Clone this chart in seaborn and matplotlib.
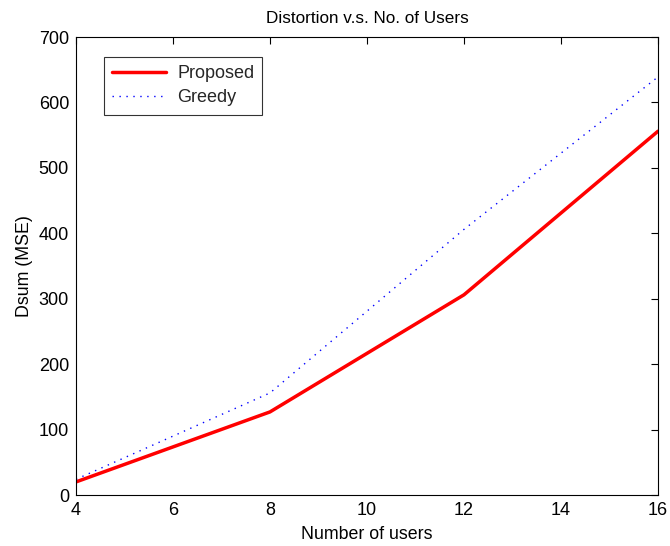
import matplotlib
matplotlib.use("Agg")
import matplotlib.pyplot as plt
import seaborn as sns
import pandas as pd

users = [4, 8, 12, 16]
proposed = [20, 127, 306, 556]
greedy = [24, 156, 406, 639]
series_names = ["Proposed", "Greedy"]

sns.set_theme(style="white")
plt.rcParams['font.family'] = ['Liberation Sans', 'DejaVu Sans']
plt.rcParams['xtick.direction'] = 'in'
plt.rcParams['ytick.direction'] = 'in'

df = pd.DataFrame({
    "users": users * 2,
    "value": proposed + greedy,
    "method": [series_names[0]] * len(users) + [series_names[1]] * len(users),
})

fig = plt.figure(figsize=(6.7, 5.46), dpi=100)
ax = fig.add_axes([76/670, 51/546, 582/670, 458/546])

sns.lineplot(data=df[df.method == "Proposed"], x="users", y="value", ax=ax,
             color="#ff0000", linewidth=2.5, label="Proposed")
sns.lineplot(data=df[df.method == "Greedy"], x="users", y="value", ax=ax,
             color="#0000ff", linewidth=1.0, linestyle=(0, (1, 4)), label="Greedy")

ax.set_xlim(4, 16)
ax.set_ylim(0, 700)
ax.set_xticks([4, 6, 8, 10, 12, 14, 16])
ax.set_yticks(range(0, 701, 100))
ax.tick_params(axis='both', which='both', direction='in', top=True, right=True,
               length=5, width=0.8, labelsize=13, color='black', labelcolor='black', pad=5)
for s in ax.spines.values():
    s.set_color('black')
    s.set_linewidth(0.8)
ax.set_xlabel("Number of users", fontsize=12.8, color='black', labelpad=5)
ax.set_ylabel("Dsum (MSE)", fontsize=12.8, color='black', labelpad=4)
ax.set_title("Distortion v.s. No. of Users", fontsize=12.3, color='black', pad=10)

leg = ax.legend(loc='upper left', bbox_to_anchor=(0.048, 0.956), borderaxespad=0,
                fontsize=13, frameon=True, fancybox=False, edgecolor='black',
                handlelength=3.0, borderpad=0.45, labelspacing=0.4, handletextpad=0.6)
leg.get_frame().set_linewidth(0.8)

fig.savefig("out.png", dpi=100)
